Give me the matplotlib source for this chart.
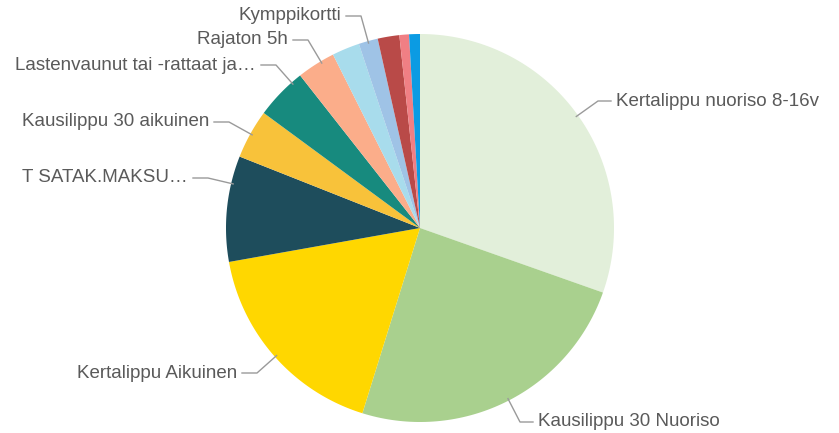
import numpy as np
import matplotlib
matplotlib.use("Agg")
import matplotlib.pyplot as plt

# ticket types, clockwise from 12 o'clock (unlabelled slices have no name shown)
categories = ["Kertalippu nuoriso 8-16v", "Kausilippu 30 Nuoriso", "Kertalippu Aikuinen",
              "T SATAK.MAKSU…", "Kausilippu 30 aikuinen", "Lastenvaunut tai -rattaat ja…",
              "Rajaton 5h", "", "Kymppikortti", "", "", ""]
shares = [30.4, 24.4, 17.4, 8.8, 4.1, 4.3, 3.2, 2.3, 1.6, 1.8, 0.8, 0.9]
colors = ["#e2efda", "#a9d08e", "#ffd700", "#1e4d5c", "#f8c23a", "#178a7e",
          "#fbad8a", "#a8dcec", "#9fc3e6", "#b94a48", "#f07f84", "#0b9be3"]

W, H = 839, 433
fig = plt.figure(figsize=(W / 100, H / 100), dpi=100)
ax = fig.add_axes([0, 0, 1, 1])
ax.set_xlim(0, W)
ax.set_ylim(H, 0)
ax.set_aspect("equal")
ax.axis("off")

cx, cy, R = 420, 228, 194

# draw wedges clockwise from the top (screen y points down)
start = 0.0
total = sum(shares)
for v, c in zip(shares, colors):
    a0 = start / total * 2 * np.pi
    a1 = (start + v) / total * 2 * np.pi
    t = np.linspace(a0, a1, 80)
    xs = np.concatenate([[cx], cx + R * np.sin(t), [cx]])
    ys = np.concatenate([[cy], cy - R * np.cos(t), [cy]])
    ax.fill(xs, ys, color=c, lw=0)
    start += v

# label layout: elbow point of the leader line and which side the text goes
elbows = {
    "Kertalippu nuoriso 8-16v": (598, 101, "left"),
    "Kausilippu 30 Nuoriso": (520, 422, "left"),
    "Kertalippu Aikuinen": (257, 373, "right"),
    "T SATAK.MAKSU…": (208, 178, "right"),
    "Kausilippu 30 aikuinen": (229, 122, "right"),
    "Lastenvaunut tai -rattaat ja…": (276, 65, "right"),
    "Rajaton 5h": (308, 40, "right"),
    "Kymppikortti": (361, 16, "right"),
}

for name in categories:
    if not name:
        continue
    ex, ey, side = elbows[name]
    d = np.hypot(ex - cx, ey - cy)
    sx = cx + (ex - cx) * (R - 2) / d
    sy = cy + (ey - cy) * (R - 2) / d
    hx = ex + 13 if side == "left" else ex - 15
    ax.plot([sx, ex, hx], [sy, ey, ey], color="#9a9a9a", lw=1)
    tx = hx + 5 if side == "left" else hx - 5
    ax.text(tx, ey, name, ha=side, va="center", fontsize=13.5,
            family="Liberation Sans", color="#5a5a5a")

fig.savefig("out.png", dpi=100)
